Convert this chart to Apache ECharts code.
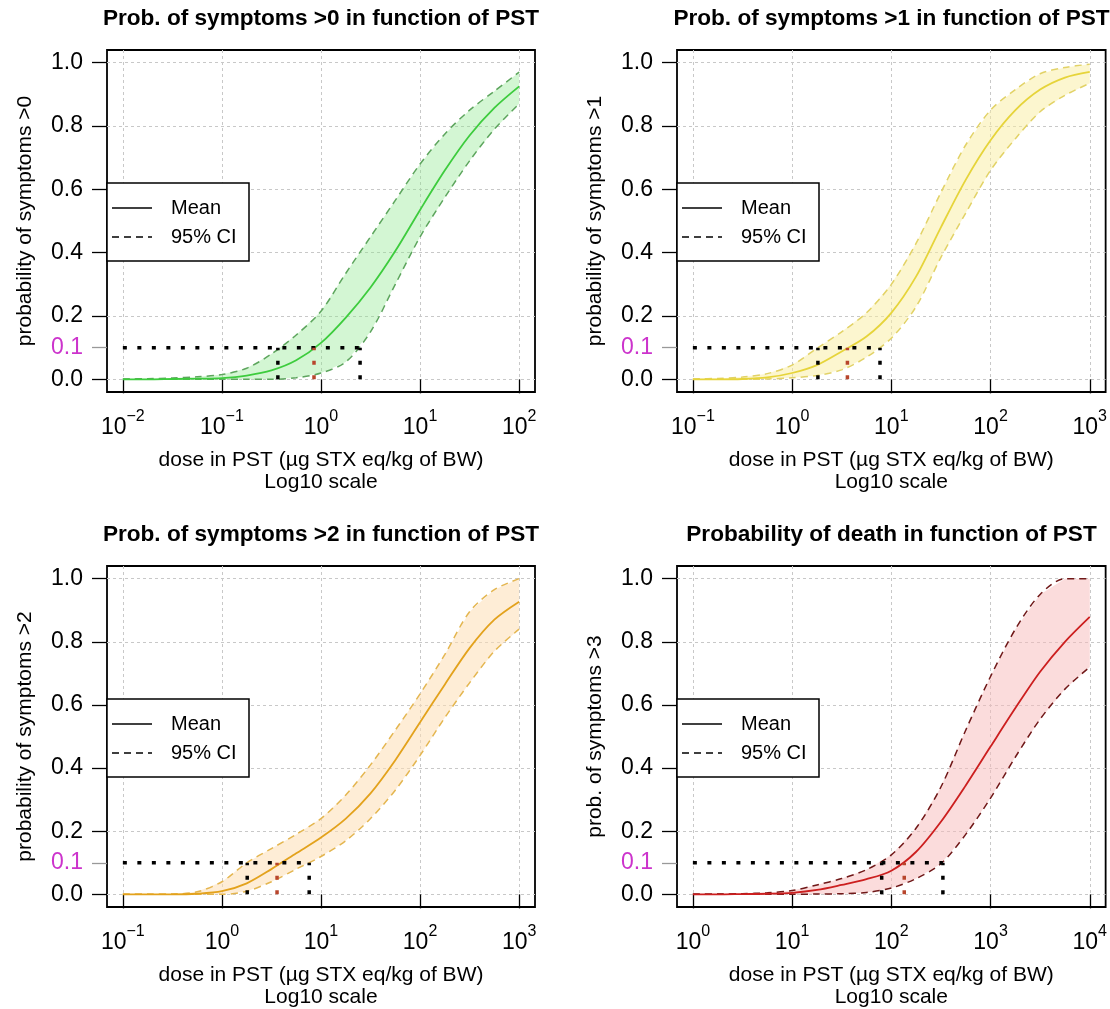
<!DOCTYPE html>
<html>
<head>
<meta charset="utf-8">
<script src="https://cdn.jsdelivr.net/npm/echarts@6/dist/echarts.min.js"></script>
<style>
html, body { margin: 0; padding: 0; background: #fff; }
#main { width: 1110px; height: 1009px; }
</style>
</head>
<body>
<div id="main"></div>
<script>
var FONT = '"Liberation Sans", Arial, sans-serif';

// doses sampled every 0.25 log10 unit
var doseS0 = [0.01, 0.0178, 0.0316, 0.0562, 0.1, 0.178, 0.316, 0.562, 1, 1.78, 3.16, 5.62, 10, 17.8, 31.6, 56.2, 100];
var doseS1 = [0.1, 0.178, 0.316, 0.562, 1, 1.78, 3.16, 5.62, 10, 17.8, 31.6, 56.2, 100, 178, 316, 562, 1000];
var doseS2 = [0.1, 0.178, 0.316, 0.562, 1, 1.78, 3.16, 5.62, 10, 17.8, 31.6, 56.2, 100, 178, 316, 562, 1000];
var doseDeath = [1, 1.78, 3.16, 5.62, 10, 17.8, 31.6, 56.2, 100, 178, 316, 562, 1000, 1780, 3160, 5620, 10000];

// symptoms >0
var s0Mean = [0, 0, 0.001, 0.002, 0.004, 0.012, 0.028, 0.06, 0.115, 0.195, 0.29, 0.405, 0.535, 0.66, 0.77, 0.857, 0.925];
var s0Low  = [0, 0, 0, 0, 0, 0, 0, 0.005, 0.02, 0.055, 0.15, 0.30, 0.45, 0.575, 0.69, 0.79, 0.87];
var s0Up   = [0.001, 0.002, 0.004, 0.008, 0.015, 0.035, 0.08, 0.14, 0.215, 0.335, 0.45, 0.565, 0.68, 0.775, 0.85, 0.91, 0.97];
// symptoms >1
var s1Mean = [0, 0, 0.001, 0.006, 0.02, 0.045, 0.088, 0.135, 0.21, 0.325, 0.48, 0.63, 0.755, 0.85, 0.915, 0.953, 0.971];
var s1Low  = [0, 0, 0, 0.001, 0.005, 0.012, 0.03, 0.07, 0.13, 0.23, 0.385, 0.525, 0.66, 0.76, 0.845, 0.897, 0.935];
var s1Up   = [0.001, 0.003, 0.007, 0.018, 0.045, 0.098, 0.15, 0.21, 0.30, 0.43, 0.59, 0.74, 0.85, 0.915, 0.965, 0.985, 0.995];
// symptoms >2
var s2Mean = [0, 0, 0, 0.002, 0.01, 0.035, 0.08, 0.13, 0.18, 0.24, 0.32, 0.425, 0.545, 0.665, 0.78, 0.87, 0.927];
var s2Low  = [0, 0, 0, 0, 0, 0.01, 0.04, 0.08, 0.12, 0.17, 0.24, 0.33, 0.44, 0.56, 0.67, 0.77, 0.84];
var s2Up   = [0, 0, 0.001, 0.008, 0.04, 0.1, 0.145, 0.19, 0.24, 0.315, 0.41, 0.52, 0.635, 0.76, 0.895, 0.965, 1.0];
// death
var deathMean = [0, 0, 0.001, 0.002, 0.005, 0.014, 0.03, 0.048, 0.075, 0.135, 0.23, 0.345, 0.468, 0.59, 0.705, 0.80, 0.879];
var deathLow  = [0, 0, 0, 0, 0, 0.001, 0.002, 0.006, 0.02, 0.05, 0.097, 0.19, 0.305, 0.435, 0.555, 0.65, 0.72];
var deathUp   = [0, 0.001, 0.002, 0.005, 0.012, 0.03, 0.05, 0.078, 0.125, 0.21, 0.34, 0.52, 0.69, 0.84, 0.95, 1.0, 1.0];

// dose giving p = 0.1 : [lower CI, mean, upper CI]
var s0Cut = [0.367, 0.85, 2.48];
var s1Cut = [1.82, 3.61, 7.69];
var s2Cut = [1.8, 3.6, 7.6];
var deathCut = [80, 135, 331];

var xTicksS0 = [0.01, 0.1, 1, 10, 100];
var xTicksS1 = [0.1, 1, 10, 100, 1000];
var xTicksDeath = [1, 10, 100, 1000, 10000];
var yTicks = [0, 0.2, 0.4, 0.6, 0.8, 1];
var yLabels = [0, 0.1, 0.2, 0.4, 0.6, 0.8, 1];

var panels = [
  { title: 'Prob. of symptoms >0 in function of PST', ylab: 'probability of symptoms >0',
    dose: doseS0, mean: s0Mean, low: s0Low, up: s0Up, cut: s0Cut, ticks: xTicksS0,
    left: 107, top: 50, width: 428, mean_c: '#3dcc3d', ci_c: '#5da55d', fill: 'rgba(140,232,140,0.38)', legend: [107, 183] },
  { title: 'Prob. of symptoms >1 in function of PST', ylab: 'probability of symptoms >1',
    dose: doseS1, mean: s1Mean, low: s1Low, up: s1Up, cut: s1Cut, ticks: xTicksS1,
    left: 677, top: 50, width: 429, mean_c: '#e6d43a', ci_c: '#e2d266', fill: 'rgba(250,238,160,0.5)', legend: [677, 183] },
  { title: 'Prob. of symptoms >2 in function of PST', ylab: 'probability of symptoms >2',
    dose: doseS2, mean: s2Mean, low: s2Low, up: s2Up, cut: s2Cut, ticks: xTicksS1,
    left: 107, top: 566, width: 428, mean_c: '#e3a21c', ci_c: '#e4b650', fill: 'rgba(253,222,180,0.55)', legend: [107, 699] },
  { title: 'Probability of death in function of PST', ylab: 'prob. of symptoms >3',
    dose: doseDeath, mean: deathMean, low: deathLow, up: deathUp, cut: deathCut, ticks: xTicksDeath,
    left: 677, top: 566, width: 429, mean_c: '#cc1f1f', ci_c: '#701818', fill: 'rgba(248,185,185,0.5)', legend: [677, 699] }
];

function supLabel(v) {
  var e = Math.round(Math.log10(v));
  return '{b|10}{s|' + (e < 0 ? '\u2212' + (-e) : e) + '}';
}

function zip(xs, ys) {
  return xs.map(function (x, k) { return [x, ys[k]]; });
}

var grid = [], xAxis = [], yAxis = [], series = [], graphic = [];
var gridLine = { show: true, lineStyle: { color: '#c8c8c8', width: 1, type: [3, 3] } };

panels.forEach(function (p, i) {
  grid.push({ left: p.left, top: p.top, width: p.width, height: 342, show: true,
    borderColor: '#000', borderWidth: 1.8, backgroundColor: '#fff' });

  var lo = p.ticks[0], hi = p.ticks[p.ticks.length - 1];
  var pad = Math.pow(10, 0.04 * Math.log10(hi / lo));
  xAxis.push({
    type: 'log', logBase: 10, gridIndex: i, position: 'bottom',
    min: lo / pad, max: hi * pad,
    axisLine: { show: false },
    axisTick: { show: true, inside: false, length: 14, customValues: p.ticks, lineStyle: { color: '#000', width: 1.3 } },
    axisLabel: { customValues: p.ticks, margin: 17, formatter: supLabel,
      rich: {
        b: { fontSize: 23, fontFamily: FONT, color: '#000', lineHeight: 30, verticalAlign: 'bottom' },
        s: { fontSize: 16, fontFamily: FONT, color: '#000', lineHeight: 30, verticalAlign: 'top' }
      } },
    splitLine: gridLine,
    name: 'dose in PST (\u00b5g STX eq/kg of BW)\nLog10 scale',
    nameLocation: 'middle', nameGap: 57,
    nameTextStyle: { fontSize: 21, fontFamily: FONT, color: '#000', lineHeight: 22 }
  });

  yAxis.push({
    type: 'value', gridIndex: i, position: 'left', min: -0.04, max: 1.04,
    axisLine: { show: false },
    axisTick: { show: true, inside: false, length: 15, customValues: yTicks, lineStyle: { color: '#000', width: 1.3 } },
    axisLabel: { customValues: yLabels, margin: 24, fontSize: 23, fontFamily: FONT,
      formatter: function (v) { return Number(v).toFixed(1); },
      color: function (v) { return Math.abs(parseFloat(v) - 0.1) < 1e-6 ? '#cc33cc' : '#000'; } },
    splitLine: gridLine,
    name: p.ylab, nameLocation: 'middle', nameGap: 71,
    nameTextStyle: { fontSize: 21, fontFamily: FONT, color: '#000' }
  });
  // extra tick at 0.1
  yAxis.push({
    type: 'value', gridIndex: i, position: 'left', min: -0.04, max: 1.04,
    axisLine: { show: false },
    axisTick: { show: true, inside: false, length: 15, customValues: [0.1], lineStyle: { color: '#999', width: 1.3 } },
    axisLabel: { show: false },
    splitLine: { show: false }
  });

  var yi = 2 * i;

  // 95% CI band
  series.push({
    type: 'custom', xAxisIndex: i, yAxisIndex: yi, silent: true, z: 1, clip: true,
    data: [[p.dose[0], 0]],
    renderItem: function (params, api) {
      var pts = [];
      for (var k = 0; k < p.dose.length; k++) pts.push(api.coord([p.dose[k], p.up[k]]));
      for (var k2 = p.dose.length - 1; k2 >= 0; k2--) pts.push(api.coord([p.dose[k2], p.low[k2]]));
      return { type: 'polygon', shape: { points: pts }, style: { fill: p.fill, stroke: null } };
    }
  });

  var base = { type: 'line', xAxisIndex: i, yAxisIndex: yi, symbol: 'none', silent: true, smooth: 0.3, z: 3 };
  series.push(Object.assign({}, base, { data: zip(p.dose, p.low),
    lineStyle: { color: p.ci_c, width: 1.5, type: [7, 5] } }));
  series.push(Object.assign({}, base, { data: zip(p.dose, p.up),
    lineStyle: { color: p.ci_c, width: 1.5, type: [7, 5] } }));
  series.push(Object.assign({}, base, { data: zip(p.dose, p.mean),
    lineStyle: { color: p.mean_c, width: 1.8 } }));

  var dot = { xAxisIndex: i, yAxisIndex: yi, type: 'line', symbol: 'none', silent: true, z: 5 };
  series.push(Object.assign({}, dot, { data: [[lo, 0.1], [p.cut[2], 0.1]],
    lineStyle: { color: '#000', width: 3.5, type: [4, 10.5] } }));
  series.push(Object.assign({}, dot, { data: [[p.cut[0], 0], [p.cut[0], 0.1]],
    lineStyle: { color: '#000', width: 3.5, type: [4, 10.5] } }));
  series.push(Object.assign({}, dot, { data: [[p.cut[2], 0], [p.cut[2], 0.1]],
    lineStyle: { color: '#000', width: 3.5, type: [4, 10.5] } }));
  series.push(Object.assign({}, dot, { data: [[p.cut[1], 0], [p.cut[1], 0.1]],
    lineStyle: { color: '#b8452c', width: 3.5, type: [4, 10.5] } }));

  // title
  graphic.push({ type: 'text', x: p.left + p.width / 2, y: p.top - 31, z: 100,
    style: { text: p.title, align: 'center', textAlign: 'center', verticalAlign: 'middle', textVerticalAlign: 'middle',
      font: 'bold 22.6px ' + FONT, fill: '#000' } });

  // legend box
  var lx = p.legend[0], ly = p.legend[1];
  graphic.push({ type: 'rect', x: lx, y: ly, z: 100, shape: { x: 0, y: 0, width: 142, height: 78 },
    style: { fill: '#fff', stroke: '#000', lineWidth: 1.5 } });
  graphic.push({ type: 'line', x: lx, y: ly, z: 101, shape: { x1: 5, y1: 25, x2: 45, y2: 25 },
    style: { stroke: '#000', lineWidth: 1.4 } });
  graphic.push({ type: 'line', x: lx, y: ly, z: 101, shape: { x1: 5, y1: 54, x2: 45, y2: 54 },
    style: { stroke: '#000', lineWidth: 1.4, lineDash: [7, 5] } });
  graphic.push({ type: 'text', x: lx + 64, y: ly + 25, z: 101,
    style: { text: 'Mean', verticalAlign: 'middle', textVerticalAlign: 'middle', font: '20px ' + FONT, fill: '#000' } });
  graphic.push({ type: 'text', x: lx + 64, y: ly + 54, z: 101,
    style: { text: '95% CI', verticalAlign: 'middle', textVerticalAlign: 'middle', font: '20px ' + FONT, fill: '#000' } });
});

var chart = echarts.init(document.getElementById('main'), null, { renderer: 'canvas' });
chart.setOption({
  backgroundColor: '#fff',
  animation: false,
  textStyle: { fontFamily: FONT },
  grid: grid,
  xAxis: xAxis,
  yAxis: yAxis,
  series: series,
  graphic: graphic
});
</script>
</body>
</html>
